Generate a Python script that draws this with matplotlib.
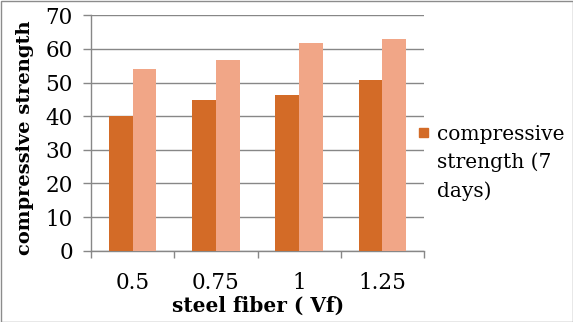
import matplotlib
matplotlib.use("Agg")
import matplotlib.pyplot as plt
from matplotlib.patches import Rectangle
import numpy as np

# Compressive strength versus steel fiber volume fraction
categories = ["0.5", "0.75", "1", "1.25"]
strength_7d = [40.0, 44.9, 46.3, 50.8]
strength_28d = [54.0, 56.7, 61.7, 63.0]
legend_label = "compressive\nstrength (7\ndays)"
y_ticks = [0, 10, 20, 30, 40, 50, 60, 70]

dark = "#D36B27"
light = "#F1A687"
grid_c = "#878787"

plt.rcParams["font.family"] = ["DejaVu Serif"]

fig = plt.figure(figsize=(5.73, 3.22), dpi=100)
ax = fig.add_axes([91 / 573, 1 - 250.7 / 322, 333 / 573, 235.4 / 322])

x = np.arange(len(categories))
w = 0.285
ax.bar(x - w / 2, strength_7d, width=w, color=dark, zorder=3)
ax.bar(x + w / 2, strength_28d, width=w, color=light, zorder=3)

ax.set_xlim(-0.5, len(categories) - 0.5)
ax.set_ylim(0, 70)
ax.set_yticks(y_ticks)
ax.yaxis.grid(True, color=grid_c, linewidth=1.0, zorder=0)
ax.set_axisbelow(True)

# category boundaries carry tick marks, centers carry labels
ax.set_xticks(np.arange(-0.5, len(categories)), labels=[""] * (len(categories) + 1))
ax.set_xticks(x, labels=categories, minor=True)
ax.tick_params(axis="x", which="major", length=5, color=grid_c, width=1)
ax.tick_params(axis="x", which="minor", length=0, pad=15, labelsize=15.5)
ax.tick_params(axis="y", length=6, color=grid_c, width=1, pad=7, labelsize=15.5)

for s in ["top", "right"]:
    ax.spines[s].set_visible(False)
for s in ["left", "bottom"]:
    ax.spines[s].set_color(grid_c)
    ax.spines[s].set_linewidth(1)

fig.text(25 / 573, 1 - 138 / 322, "compressive strength", rotation=90,
         ha="center", va="center", fontsize=14, fontweight="bold")
fig.text(258 / 573, 1 - 306 / 322, "steel fiber ( Vf)",
         ha="center", va="center", fontsize=14.5, fontweight="bold")

# legend entry
fig.patches.append(Rectangle((419 / 573, 1 - 137 / 322), 9 / 573, 9 / 322,
                             transform=fig.transFigure, color=dark))
fig.text(437 / 573, 1 - 125 / 322, legend_label, ha="left", va="top",
         fontsize=14.5, linespacing=1.55)

# outer frame
fig.patches.append(Rectangle((0.5 / 573, 0.5 / 322), 572 / 573, 321 / 322,
                             transform=fig.transFigure, fill=False,
                             edgecolor="#8c8c8c", linewidth=1))

fig.savefig("out.png", dpi=100)
